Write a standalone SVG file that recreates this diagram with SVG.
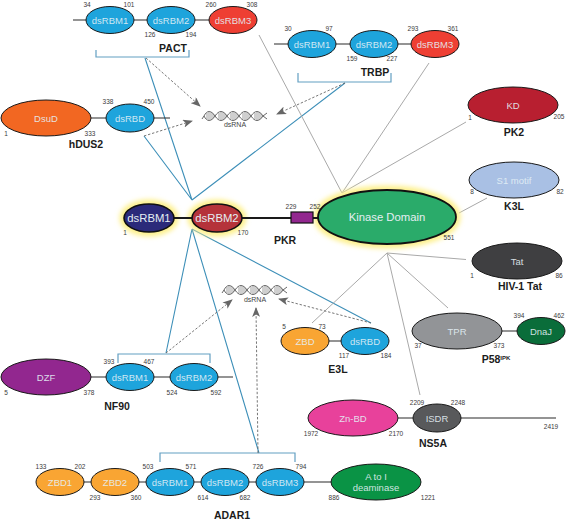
<svg xmlns="http://www.w3.org/2000/svg" width="567" height="520" viewBox="0 0 567 520">
<style>
text{font-family:"Liberation Sans",Arial,sans-serif;text-anchor:middle}
.n{font-size:6.500px;fill:#3a3a3a}
.t{font-size:10.500px;font-weight:bold;fill:#1c1c1c}
.l{font-size:9.500px;fill:#e4f0f6;fill-opacity:.9;dominant-baseline:central}
.k{font-size:11.300px;fill:#e4eef2;dominant-baseline:central}
.d{stroke:#1a1a1a;stroke-width:1}
.b{stroke:#2a2a2a;stroke-width:1.100;fill:none}
.blue{stroke:#3d8fb8;stroke-width:1.100;fill:none}
.br{stroke:#639fc2;stroke-width:1.200;fill:none}
.g{stroke:#a9a9a9;stroke-width:1;fill:none}
.da{stroke:#666;stroke-width:.9;stroke-dasharray:2.400 1.800;fill:none;marker-end:url(#ah)}
.sb{fill:#1ea4dc}.sr{fill:#ee3f33}.so{fill:#f9a533}
.h{fill:none;stroke:#555;stroke-width:.9}
.r{stroke:#777;stroke-width:.7}
.rn{font-size:7px;fill:#444}
</style>
<defs>
<marker id="ah" markerWidth="10" markerHeight="8" refX="9" refY="4" orient="auto" markerUnits="userSpaceOnUse"><path d="M0 0L10 4L0 8L2.500 4Z" fill="#666"/></marker>
<filter id="glow" x="-30%" y="-60%" width="160%" height="220%"><feGaussianBlur stdDeviation="2.500"/></filter>
<g id="helix">
<path class="h" d="M2 0C5 -6 9 -6 13 0S21 6 25 0S33 -6 37 0S45 6 49 0S57 -6 61 0L65 3"/>
<path class="h" d="M0 3L2 0C5 6 9 6 13 0S21 -6 25 0S33 6 37 0S45 -6 49 0S57 6 61 0L65 -3"/>
<path class="r" d="M5 -3V3M7 -4V4M9 -4V4M11 -3V3M17 -3V3M19 -4V4M21 -4V4M23 -3V3M29 -3V3M31 -4V4M33 -4V4M35 -3V3M41 -3V3M43 -4V4M45 -4V4M47 -3V3M53 -3V3M55 -4V4M57 -4V4M59 -3V3"/>
</g>
</defs>
<rect width="567" height="520" fill="#fff"/>
<g id="connectors">
<path class="blue" d="M145 58L192 200M144 136L192 200M345 83L192 200M192 229L166 353M192 229L259 453M192 229L371 323"/>
<path class="g" d="M259 35L342 193M429 63L342 193M466 122L342 193M459 213L487 198M466 259.500L387 253M448 308L387 253M312 323L387 253M420 395L387 253"/>
<path class="br" d="M96 50V57H189V50M298 73V82H391V73M118 363V354H210V363M160 462V453H295V462"/>
<path class="da" d="M146 58L200 106"/>
<path class="da" d="M144 136L192 121"/>
<path class="da" d="M345 83L277 114"/>
<path class="da" d="M166 353L232 300"/>
<path class="da" d="M258 453L256 308"/>
<path class="da" d="M371 323L279 299"/>
</g>
<g id="dsRNA-top"><use href="#helix" x="202" y="116"/><text class="rn" x="235" y="127">dsRNA</text></g>
<g id="dsRNA-bottom"><use href="#helix" x="222" y="290"/><text class="rn" x="255" y="302">dsRNA</text></g>

<g id="PACT">
<path class="b" d="M73 20H233"/>
<ellipse class="d sb" cx="110" cy="20" rx="24" ry="13.500"/><text class="l" x="110" y="20">dsRBM1</text>
<ellipse class="d sb" cx="171" cy="20" rx="24" ry="13.500"/><text class="l" x="171" y="20">dsRBM2</text>
<ellipse class="d sr" cx="233" cy="20" rx="24" ry="13.500"/><text class="l" x="233" y="20">dsRBM3</text>
<text class="n" x="87" y="7">34</text><text class="n" x="129" y="7">101</text><text class="n" x="150" y="37">126</text><text class="n" x="191" y="37">194</text><text class="n" x="211" y="7">260</text><text class="n" x="252" y="7">308</text>
<text class="t" x="173" y="52">PACT</text>
</g>
<g id="hDUS2">
<path class="b" d="M91 118H170"/>
<ellipse class="d" fill="#f26722" cx="46" cy="118" rx="45" ry="18"/><text class="l" x="46" y="118">DsuD</text>
<ellipse class="d sb" cx="130" cy="118" rx="24" ry="14"/><text class="l" x="130" y="118">dsRBD</text>
<text class="n" x="108" y="104">338</text><text class="n" x="149" y="104">450</text><text class="n" x="90" y="136">333</text><text class="n" x="6" y="136">1</text>
<text class="t" x="86" y="148">hDUS2</text>
</g>
<g id="TRBP">
<path class="b" d="M274 44H435"/>
<ellipse class="d sb" cx="312" cy="44" rx="24" ry="13.500"/><text class="l" x="312" y="44">dsRBM1</text>
<ellipse class="d sb" cx="374" cy="44" rx="24" ry="13.500"/><text class="l" x="374" y="44">dsRBM2</text>
<ellipse class="d sr" cx="435" cy="44" rx="24" ry="13.500"/><text class="l" x="435" y="44">dsRBM3</text>
<text class="n" x="288" y="31">30</text><text class="n" x="329" y="31">97</text><text class="n" x="352" y="61">159</text><text class="n" x="392" y="61">227</text><text class="n" x="413" y="31">293</text><text class="n" x="453" y="31">361</text>
<text class="t" x="375" y="76">TRBP</text>
</g>
<g id="PK2">
<ellipse class="d" fill="#b81f30" cx="513" cy="105" rx="45" ry="18"/><text class="l" x="513" y="105">KD</text>
<text class="n" x="470" y="120">1</text><text class="n" x="559" y="119">205</text>
<text class="t" x="514" y="136">PK2</text>
</g>
<g id="K3L">
<ellipse class="d" fill="#a9c0e4" cx="514" cy="180" rx="45" ry="18"/><text class="l" x="514" y="180">S1 motif</text>
<text class="n" x="472" y="194">8</text><text class="n" x="560" y="194">82</text>
<text class="t" x="514" y="210">K3L</text>
</g>
<g id="PKR">
<g filter="url(#glow)" fill="#fdf08a" stroke="#fdf08a" stroke-width="9"><ellipse cx="149" cy="218" rx="25" ry="14"/><ellipse cx="217" cy="218" rx="25" ry="14"/><ellipse cx="387" cy="217" rx="69" ry="27"/></g>
<path d="M149 218H387" stroke="#1a1a1a" stroke-width="1.800" fill="none"/>
<ellipse fill="#2b2a7a" stroke="#111" stroke-width="1.600" cx="149" cy="218" rx="25" ry="14"/><text class="k" x="149" y="218">dsRBM1</text>
<ellipse fill="#b5333a" stroke="#111" stroke-width="1.600" cx="217" cy="218" rx="25" ry="14"/><text class="k" x="217" y="218">dsRBM2</text>
<rect x="291" y="212" width="22" height="11" fill="#92278f" stroke="#111" stroke-width="1.200"/>
<ellipse fill="#2aab6a" stroke="#111" stroke-width="1.800" cx="387" cy="217" rx="69" ry="27"/><text class="k" x="387" y="217">Kinase Domain</text>
<text class="n" x="125" y="235">1</text><text class="n" x="243" y="235">170</text><text class="n" x="291" y="209">229</text><text class="n" x="315" y="209">252</text><text class="n" x="449" y="240">551</text>
<text class="t" x="285" y="244">PKR</text>
</g>
<g id="Tat">
<ellipse class="d" fill="#3f3f41" cx="517" cy="261" rx="45" ry="18"/><text class="l" x="517" y="261">Tat</text>
<text class="n" x="472" y="278">1</text><text class="n" x="559" y="278">86</text>
<text class="t" x="520" y="290">HIV-1 Tat</text>
</g>
<g id="P58">
<path class="b" d="M457 331H541"/>
<ellipse class="d" fill="#929497" cx="457" cy="331" rx="45" ry="18"/><text class="l" x="457" y="331">TPR</text>
<ellipse class="d" fill="#0a6d3a" cx="541" cy="331" rx="24" ry="13.500"/><text class="l" x="541" y="331">DnaJ</text>
<text class="n" x="418" y="348">37</text><text class="n" x="499" y="348">373</text><text class="n" x="519" y="318">394</text><text class="n" x="559" y="318">462</text>
<text class="t" x="496" y="363">P58<tspan font-size="6" dy="-3">IPK</tspan></text>
</g>
<g id="E3L">
<path class="b" d="M305 341H365"/>
<ellipse class="d so" cx="305" cy="341" rx="24" ry="13.500"/><text class="l" x="305" y="341">ZBD</text>
<ellipse class="d sb" cx="365" cy="341" rx="24" ry="13.500"/><text class="l" x="365" y="341">dsRBD</text>
<text class="n" x="284" y="329">5</text><text class="n" x="322" y="329">73</text><text class="n" x="344" y="358">117</text><text class="n" x="386" y="358">184</text>
<text class="t" x="338" y="373">E3L</text>
</g>
<g id="NS5A">
<path class="b" d="M353 418H556"/>
<ellipse class="d" fill="#e8419b" cx="353" cy="418" rx="45" ry="18"/><text class="l" x="353" y="418">Zn-BD</text>
<ellipse class="d" fill="#58595b" cx="437" cy="418" rx="24" ry="14"/><text class="l" x="437" y="418">ISDR</text>
<text class="n" x="417" y="405">2209</text><text class="n" x="458" y="405">2248</text><text class="n" x="311" y="436">1972</text><text class="n" x="396" y="436">2170</text><text class="n" x="551" y="429">2419</text>
<text class="t" x="433" y="447">NS5A</text>
</g>
<g id="NF90">
<path class="b" d="M91 377H233"/>
<ellipse class="d" fill="#92278f" cx="46" cy="377" rx="45" ry="18"/><text class="l" x="46" y="377">DZF</text>
<ellipse class="d sb" cx="130" cy="377" rx="24" ry="13.500"/><text class="l" x="130" y="377">dsRBM1</text>
<ellipse class="d sb" cx="194" cy="377" rx="24" ry="13.500"/><text class="l" x="194" y="377">dsRBM2</text>
<text class="n" x="109" y="364">393</text><text class="n" x="149" y="364">467</text><text class="n" x="172" y="395">524</text><text class="n" x="216" y="395">592</text><text class="n" x="6" y="395">5</text><text class="n" x="89" y="395">378</text>
<text class="t" x="117" y="410">NF90</text>
</g>
<g id="ADAR1">
<path class="b" d="M60 482H376"/>
<ellipse class="d so" cx="60" cy="482" rx="24" ry="13.500"/><text class="l" x="60" y="482">ZBD1</text>
<ellipse class="d so" cx="115" cy="482" rx="24" ry="13.500"/><text class="l" x="115" y="482">ZBD2</text>
<ellipse class="d sb" cx="170" cy="482" rx="24" ry="13.500"/><text class="l" x="170" y="482">dsRBM1</text>
<ellipse class="d sb" cx="225" cy="482" rx="24" ry="13.500"/><text class="l" x="225" y="482">dsRBM2</text>
<ellipse class="d sb" cx="280" cy="482" rx="24" ry="13.500"/><text class="l" x="280" y="482">dsRBM3</text>
<ellipse class="d" fill="#0a9345" cx="376" cy="482" rx="45" ry="18"/><text class="l" x="376" y="476">A to I</text><text class="l" x="376" y="487">deaminase</text>
<text class="n" x="41" y="469">133</text><text class="n" x="80" y="469">202</text><text class="n" x="95" y="500">293</text><text class="n" x="136" y="500">360</text><text class="n" x="148" y="469">503</text><text class="n" x="191" y="469">571</text><text class="n" x="203" y="500">614</text><text class="n" x="245" y="500">682</text><text class="n" x="258" y="469">726</text><text class="n" x="301" y="469">794</text><text class="n" x="334" y="500">886</text><text class="n" x="428" y="500">1221</text>
<text class="t" x="232" y="519">ADAR1</text>
</g>
</svg>
